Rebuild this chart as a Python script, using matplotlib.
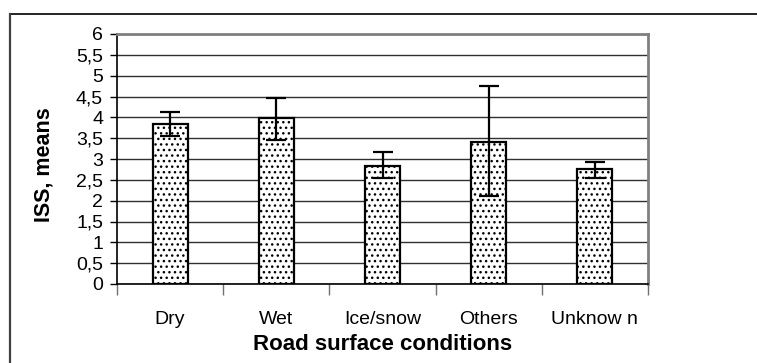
import matplotlib
matplotlib.use("Agg")
import matplotlib.pyplot as plt
import numpy as np

categories = ["Dry", "Wet", "Ice/snow", "Others", "Unknow n"]
means = [3.84, 3.98, 2.84, 3.42, 2.75]
err_low = [0.29, 0.52, 0.29, 1.31, 0.20]
err_high = [0.29, 0.49, 0.34, 1.34, 0.19]
yticks = [0, 0.5, 1, 1.5, 2, 2.5, 3, 3.5, 4, 4.5, 5, 5.5, 6]
ytick_labels = [str(t).replace(".", ",") if t % 1 else str(int(t)) for t in yticks]

plt.rcParams["font.family"] = ["Liberation Sans", "DejaVu Sans"]
plt.rcParams["hatch.color"] = "#b8b8b8"
plt.rcParams["hatch.linewidth"] = 1.0

fig = plt.figure(figsize=(7.57, 3.63), dpi=100)
ax = fig.add_axes([117 / 757, 1 - 284 / 363, 531 / 757, 250 / 363])

# outer chart frame (open at right and bottom as in the reference)
fig.add_artist(plt.Line2D([10 / 757, 1.0], [1 - 14 / 363] * 2, color="black", lw=1.2,
                          transform=fig.transFigure))
fig.add_artist(plt.Line2D([10 / 757] * 2, [0, 1 - 14 / 363], color="#404040", lw=1.6,
                          transform=fig.transFigure))

x = np.arange(len(categories))
ax.bar(x, means, width=0.33, facecolor="white", edgecolor="black", linewidth=1.6,
       hatch="...", zorder=3)
ax.errorbar(x, means, yerr=[err_low, err_high], fmt="none", ecolor="black",
            elinewidth=1.6, capsize=7, capthick=1.6, zorder=4)

ax.set_xlim(-0.5, len(categories) - 0.5)
ax.set_ylim(0, 6)
ax.set_yticks(yticks)
ax.set_yticklabels(ytick_labels, fontsize=14)
ax.yaxis.grid(True, color="#303030", linewidth=1.0, zorder=0)
ax.set_axisbelow(True)

# category labels centered, ticks at category boundaries
ax.set_xticks(np.arange(-0.5, len(categories), 1.0))
ax.set_xticklabels([])
ax.tick_params(axis="x", length=8, width=1, color="#707070", direction="out")
ax.tick_params(axis="y", length=5, width=1, color="black", pad=5)
for i, c in enumerate(categories):
    ax.text(i, -0.108, c, transform=ax.get_xaxis_transform(), ha="center", va="top",
            fontsize=14)

for side in ["top", "right"]:
    ax.spines[side].set_color("#808080")
    ax.spines[side].set_linewidth(2)
ax.spines["left"].set_color("black")
ax.spines["bottom"].set_color("black")
ax.spines["left"].set_linewidth(1.2)
ax.spines["bottom"].set_linewidth(1.2)

ax.set_xlabel("Road surface conditions", fontsize=16, fontweight="bold")
ax.xaxis.set_label_coords(0.5, -0.2)
ax.set_ylabel("ISS, means", fontsize=15.5, fontweight="bold")
ax.yaxis.set_label_coords(-0.117, 0.478)

fig.savefig("out.png", dpi=100, facecolor="white")
